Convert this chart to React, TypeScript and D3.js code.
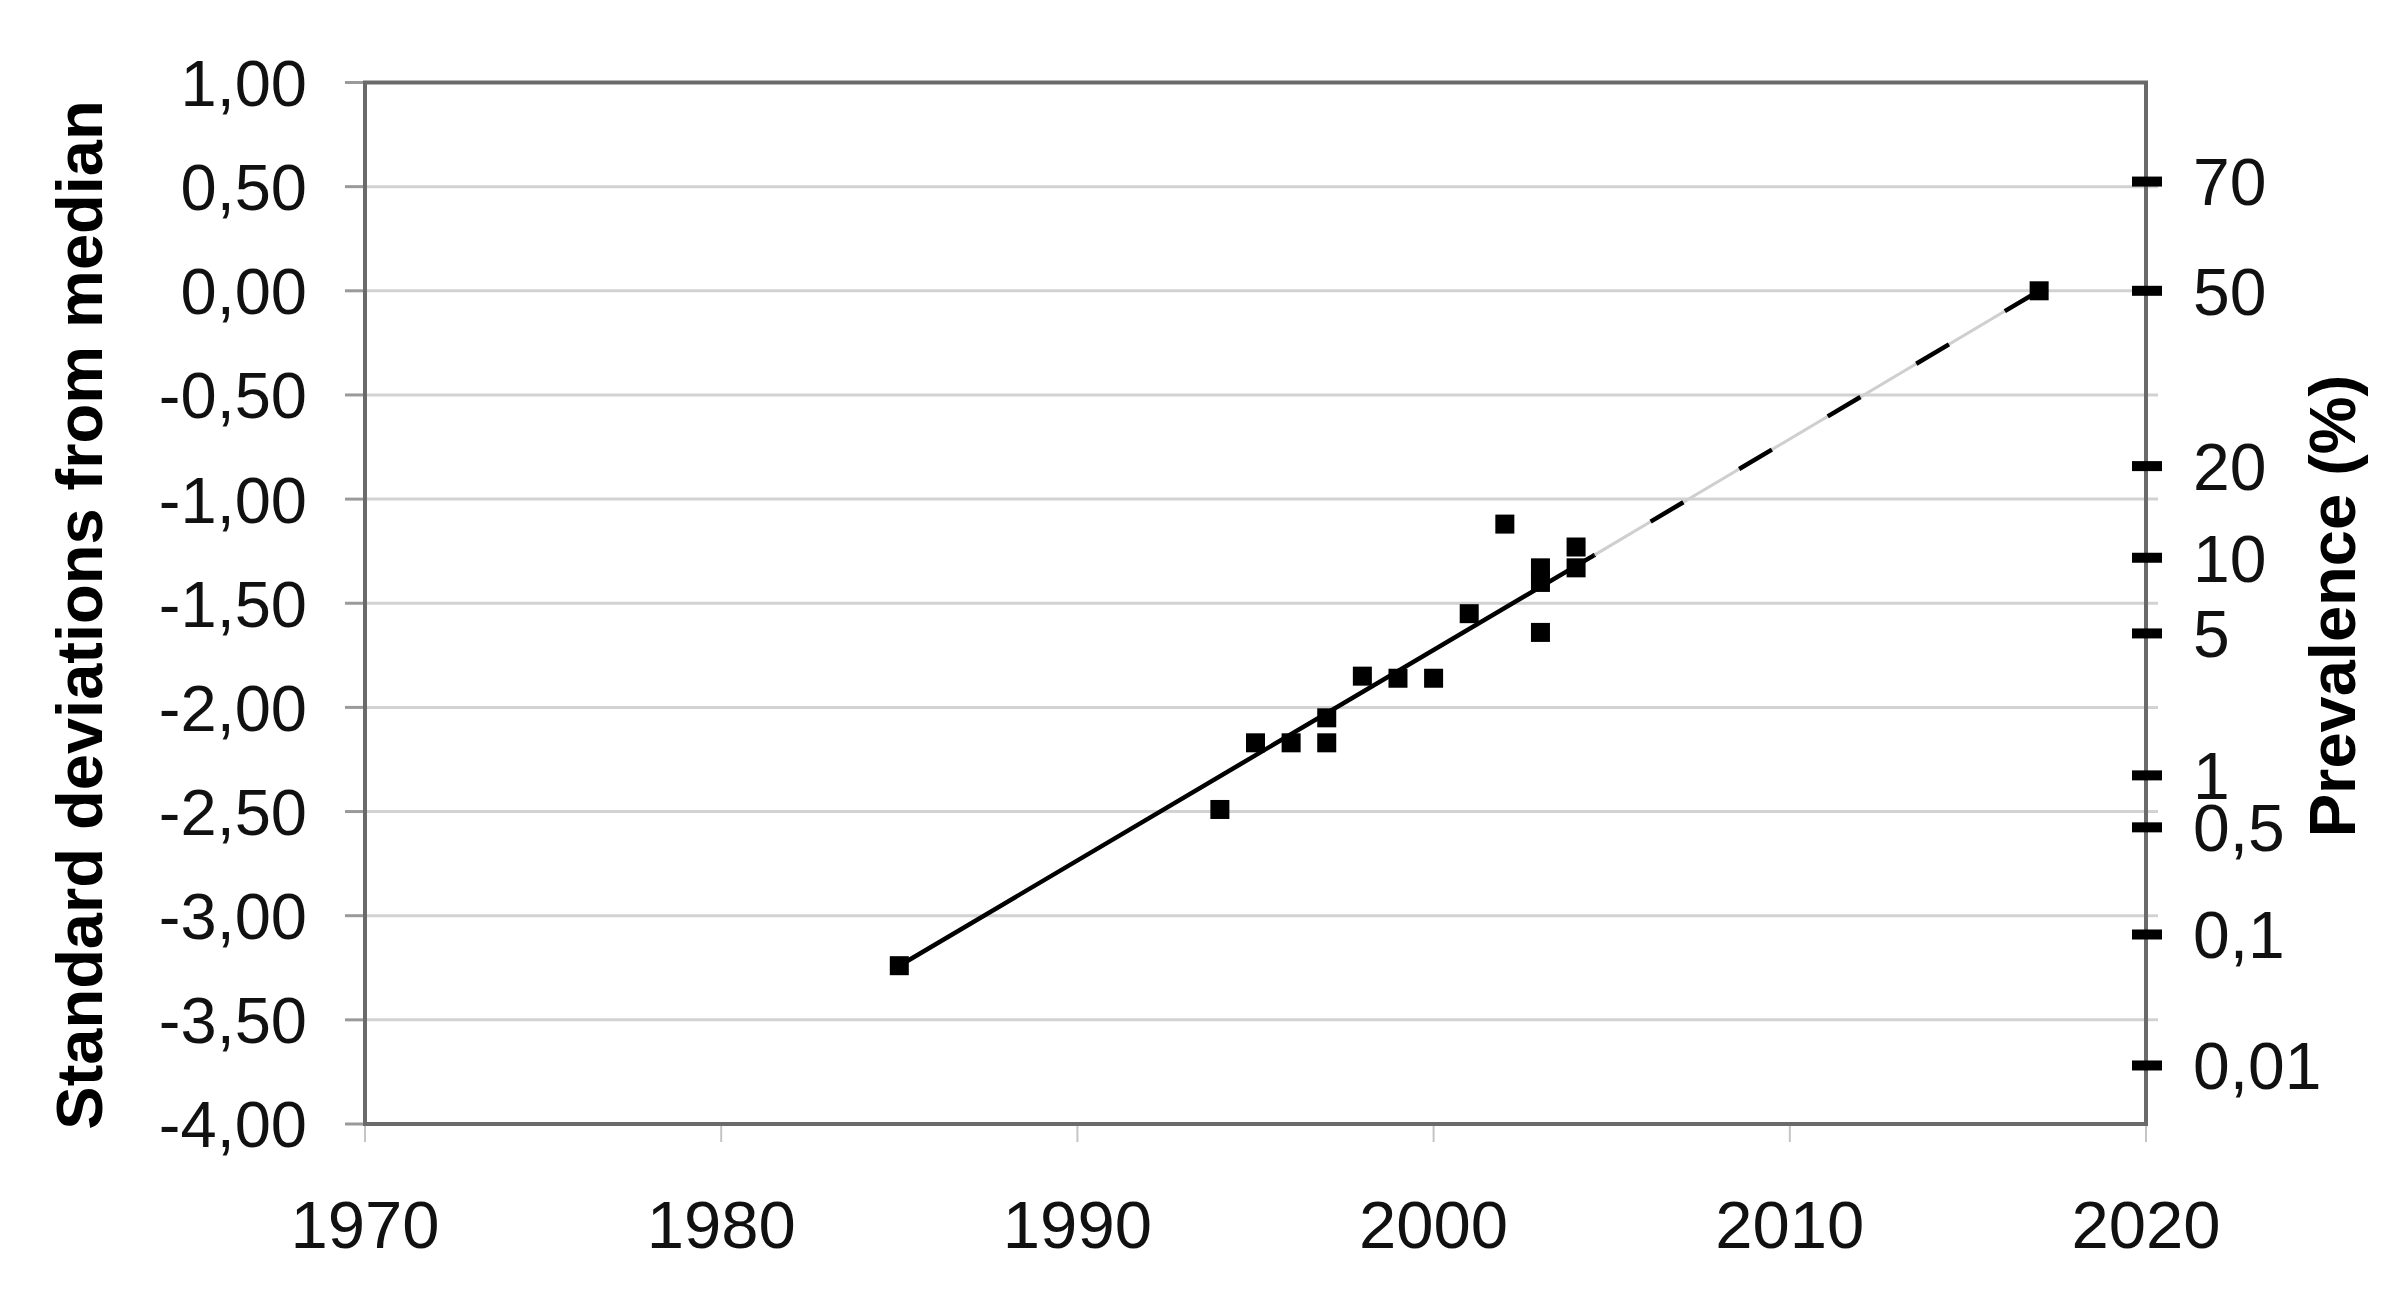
import React from "react";
import * as d3 from "d3";

// ---- data ----
const pointYears = [1985, 1994, 1995, 1996, 1997, 1997, 1998, 1999, 2000, 2001, 2002, 2003, 2003, 2003, 2004, 2004, 2017];
const pointValues = [-3.24, -2.49, -2.17, -2.17, -2.05, -2.17, -1.85, -1.86, -1.86, -1.55, -1.12, -1.33, -1.40, -1.64, -1.23, -1.33, 0.0];

const trendYears = [1985, 2004.5, 2017];
const trendValues = [-3.24, -1.27, 0.0];

const leftTicks = [1, 0.5, 0, -0.5, -1, -1.5, -2, -2.5, -3, -3.5, -4];
const xTicks = [1970, 1980, 1990, 2000, 2010, 2020];
const prevalenceTicks = [70, 50, 20, 10, 5, 1, 0.5, 0.1, 0.01];
const prevalenceLabels = ["70", "50", "20", "10", "5", "1", "0,5", "0,1", "0,01"];

const yTitle = "Standard deviations from median";
const rightTitle = "Prevalence (%)";

// inverse normal CDF (Acklam) to place prevalence ticks on the z-scale
function probit(p: number): number {
  const a = [-39.69683028665376, 220.9460984245205, -275.9285104469687, 138.357751867269, -30.66479806614716, 2.506628277459239];
  const b = [-54.47609879822406, 161.5858368580409, -155.6989798598866, 66.80131188771972, -13.28068155288572];
  const c = [-0.007784894002430293, -0.3223964580411365, -2.400758277161838, -2.549732539343734, 4.374664141464968, 2.938163982698783];
  const d = [0.007784695709041462, 0.3224671290700398, 2.445134137142996, 3.754408661907416];
  const pl = 0.02425;
  if (p < pl) {
    const q = Math.sqrt(-2 * Math.log(p));
    return (((((c[0] * q + c[1]) * q + c[2]) * q + c[3]) * q + c[4]) * q + c[5]) / ((((d[0] * q + d[1]) * q + d[2]) * q + d[3]) * q + 1);
  }
  if (p <= 1 - pl) {
    const q = p - 0.5;
    const r = q * q;
    return ((((((a[0] * r + a[1]) * r + a[2]) * r + a[3]) * r + a[4]) * r + a[5]) * q) / (((((b[0] * r + b[1]) * r + b[2]) * r + b[3]) * r + b[4]) * r + 1);
  }
  const q = Math.sqrt(-2 * Math.log(1 - p));
  return -(((((c[0] * q + c[1]) * q + c[2]) * q + c[3]) * q + c[4]) * q + c[5]) / ((((d[0] * q + d[1]) * q + d[2]) * q + d[3]) * q + 1);
}

const W = 2406;
const H = 1293;
const M = { left: 365, right: 2146, top: 82.5, bottom: 1124 };
const FONT = "'Liberation Sans', Arial, Helvetica, sans-serif";

export default function App() {
  const x = d3.scaleLinear().domain([1970, 2020]).range([M.left, M.right]);
  const y = d3.scaleLinear().domain([-4, 1]).range([M.bottom, M.top]);

  const line = d3
    .line<number>()
    .x((_, i) => x(trendYears[i]))
    .y((v) => y(v));

  const solidPath = line(trendValues.slice(0, 2)) || "";
  const dashPath =
    d3
      .line<number>()
      .x((_, i) => x(trendYears[i + 1]))
      .y((v) => y(v))(trendValues.slice(1)) || "";

  const fmt = (v: number) => v.toFixed(2).replace(".", ",");
  const sq = 19;

  return (
    <svg
      width={W}
      height={H}
      style={{ position: "absolute", left: 0, top: 0, display: "block", background: "#fff" }}
      fontFamily={FONT}
    >
      <rect x={0} y={0} width={W} height={H} fill="#fff" />
      {/* gridlines */}
      {leftTicks
        .filter((t) => t > -4 && t < 1)
        .map((t) => (
          <line key={"g" + t} x1={M.left} x2={M.right + 12} y1={y(t)} y2={y(t)} stroke="#d2d2d2" strokeWidth={3} />
        ))}
      {/* left ticks */}
      {leftTicks.map((t) => (
        <line key={"lt" + t} x1={M.left - 20} x2={M.left} y1={y(t)} y2={y(t)} stroke="#9a9a9a" strokeWidth={3} />
      ))}
      {/* x ticks */}
      {xTicks.map((t) => (
        <line key={"xt" + t} x1={x(t)} x2={x(t)} y1={M.bottom} y2={M.bottom + 18} stroke="#c4c4c4" strokeWidth={2} />
      ))}
      {/* frame */}
      <rect
        x={M.left}
        y={M.top}
        width={M.right - M.left}
        height={M.bottom - M.top}
        fill="none"
        stroke="#6a6a6a"
        strokeWidth={4}
      />
      {/* trend lines */}
      <path d={solidPath} fill="none" stroke="#000" strokeWidth={4.5} strokeLinecap="round" />
      <path d={dashPath} fill="none" stroke="#cfcfcf" strokeWidth={3} />
      <path d={dashPath} fill="none" stroke="#000" strokeWidth={4.5} strokeDasharray="38 65" strokeDashoffset={37} />
      {/* points */}
      {pointYears.map((yr, i) => (
        <rect key={"p" + i} x={x(yr) - sq / 2} y={y(pointValues[i]) - sq / 2} width={sq} height={sq} fill="#000" />
      ))}
      {/* right ticks */}
      {prevalenceTicks.map((p, i) => {
        const yy = y(probit(p / 100));
        return (
          <g key={"rt" + p}>
            <rect x={M.right - 14} y={yy - 5} width={30} height={10} fill="#000" />
            <text x={M.right + 47} y={yy} dy="0.36em" fontSize={66} fill="#111">
              {prevalenceLabels[i]}
            </text>
          </g>
        );
      })}
      {/* left labels */}
      {leftTicks.map((t) => (
        <text key={"ll" + t} x={M.left - 58} y={y(t)} dy="0.36em" textAnchor="end" fontSize={65} fill="#111">
          {fmt(t)}
        </text>
      ))}
      {/* x labels */}
      {xTicks.map((t) => (
        <text key={"xl" + t} x={x(t)} y={1248} textAnchor="middle" fontSize={67} fill="#111">
          {t}
        </text>
      ))}
      {/* titles */}
      <text transform="translate(102,615) rotate(-90)" textAnchor="middle" fontSize={65} fontWeight="bold" fill="#000">
        {yTitle}
      </text>
      <text transform="translate(2355,606) rotate(-90)" textAnchor="middle" fontSize={65} fontWeight="bold" fill="#000">
        {rightTitle}
      </text>
    </svg>
  );
}
